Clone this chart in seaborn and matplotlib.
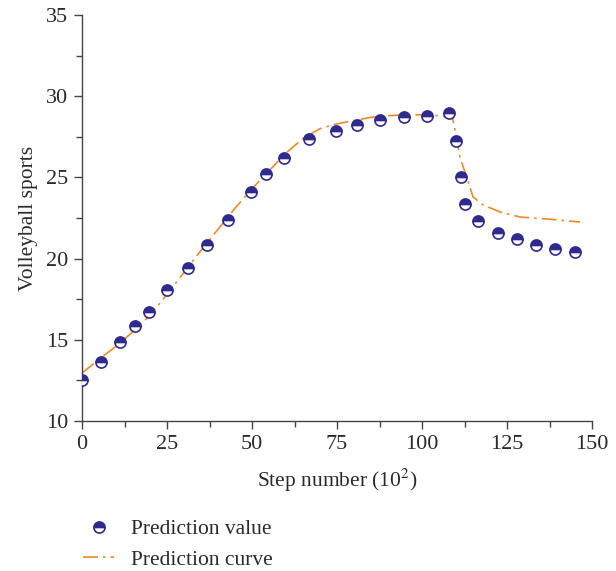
import matplotlib
matplotlib.use("Agg")
import matplotlib.pyplot as plt
import seaborn as sns
import pandas as pd
from matplotlib.ticker import MultipleLocator

# Data
step_pts = [0, 5.6, 11.2, 15.6, 19.7, 25.0, 31.2, 36.8, 42.9, 49.7, 54.1, 59.4, 66.8,
            74.7, 80.9, 87.6, 94.7, 101.5, 107.9, 110.0, 111.5, 112.6, 116.5, 122.4,
            127.9, 133.5, 139.1, 145.0]
value_pts = [12.5, 13.65, 14.87, 15.85, 16.7, 18.07, 19.42, 20.84, 22.35, 24.1, 25.2,
             26.2, 27.36, 27.86, 28.25, 28.55, 28.7, 28.8, 28.95, 27.25, 25.05, 23.36,
             22.32, 21.58, 21.2, 20.84, 20.59, 20.41]

step_curve = [0, 5, 10, 15, 20, 25, 30, 35, 40, 45, 50, 55, 60, 65, 70, 75, 80, 85, 90,
              95, 100, 105, 109, 110.3, 111.2, 113.2, 115, 118, 123, 128.8, 136.8, 146.5]
value_curve = [12.95, 13.8, 14.6, 15.5, 16.5, 17.8, 19.15, 20.5, 21.8, 23.1, 24.3, 25.4,
               26.5, 27.4, 28.0, 28.3, 28.5, 28.7, 28.8, 28.85, 28.85, 28.8, 28.65,
               27.3, 26.2, 25.0, 23.8, 23.3, 22.87, 22.56, 22.44, 22.25]

x_ticks = [0, 25, 50, 75, 100, 125, 150]
y_ticks = [10, 15, 20, 25, 30, 35]

sns.set_theme(style="ticks")
plt.rcParams['font.family'] = ['Liberation Serif', 'DejaVu Serif']
plt.rcParams['mathtext.fontset'] = 'stix'

fig = plt.figure(figsize=(6.16, 5.71), dpi=100)
ax = fig.add_axes([82/616, 1-421/571, (592-82)/616, (421-15)/571])

navy = "#2f2a8e"
orange = "#f0892b"
txt = "#2a2a2a"

df_c = pd.DataFrame({"x": step_curve, "y": value_curve})
df_p = pd.DataFrame({"x": step_pts, "y": value_pts})

sns.lineplot(data=df_c, x="x", y="y", ax=ax, color=orange, linestyle=(0, (9, 3, 1.5, 3)),
             linewidth=1.2, label="Prediction curve", zorder=2)
sns.lineplot(data=df_p, x="x", y="y", ax=ax, color=navy, linestyle="", marker="o",
             markersize=8, fillstyle="top", markerfacecolor=navy,
             markerfacecoloralt="white", markeredgecolor=navy, markeredgewidth=1.2,
             label="Prediction value", zorder=3)

ax.set_xlim(0, 150)
ax.set_ylim(10, 35)
ax.set_xticks(x_ticks)
ax.set_yticks(y_ticks)
ax.xaxis.set_minor_locator(MultipleLocator(12.5))
ax.yaxis.set_minor_locator(MultipleLocator(2.5))
ax.tick_params(which="major", direction="out", length=6, width=1, colors="#444444",
               labelsize=16, labelcolor=txt, pad=4)
ax.tick_params(which="minor", direction="out", length=4, width=1, colors="#444444")
for s in ["top", "right"]:
    ax.spines[s].set_visible(False)
for s in ["left", "bottom"]:
    ax.spines[s].set_color("#444444")
    ax.spines[s].set_linewidth(1)

ax.set_xlabel("Step number (10$^{2}$)", fontsize=15.5, color=txt, labelpad=9)
ax.set_ylabel("Volleyball sports", fontsize=15.5, color=txt, labelpad=6)

ax.get_legend().remove()
handles, labels = ax.get_legend_handles_labels()
order = [labels.index("Prediction value"), labels.index("Prediction curve")]
fig.legend([handles[i] for i in order], [labels[i] for i in order],
           loc="upper left", bbox_to_anchor=(83/616, 1-519/571), frameon=False,
           fontsize=15.5, handlelength=1.45, labelspacing=0.5, handletextpad=0.8,
           borderpad=0, borderaxespad=0, labelcolor=txt)

fig.savefig("out.png", dpi=100)
